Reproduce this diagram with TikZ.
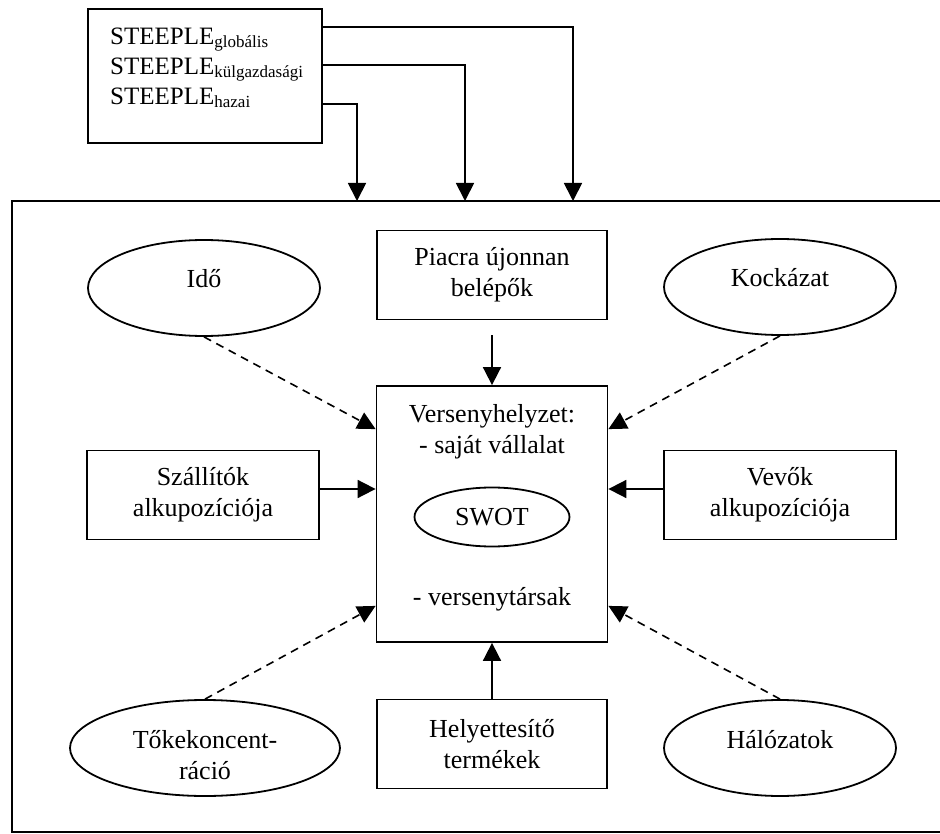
\documentclass[tikz,border=0pt]{standalone}
\usepackage{fontspec}
\setmainfont{Liberation Serif}
\usetikzlibrary{shapes.geometric,arrows.meta}
\tikzset{
  box/.style={draw, line width=1.8pt, minimum width=230pt, minimum height=89pt, inner sep=0pt, align=center},
  oval/.style={draw, ellipse, line width=1.8pt, minimum width=232pt, minimum height=96pt, inner sep=0pt, align=center},
  arr/.style={line width=1.8pt, -{Triangle[length=18pt,width=18pt]}},
  dasharr/.style={arr, line width=1.6pt, dash pattern=on 8pt off 6pt}
}
\newcommand{\steeplesub}[1]{\raisebox{-3pt}{\fontsize{17}{17}\selectfont #1}}
\begin{document}
\begin{tikzpicture}[x=1pt, y=-1pt, font=\fontsize{26}{31}\selectfont]
  \useasboundingbox (0,0) rectangle (940,834);
  % outer frame
  \draw[line width=1.8pt] (940,201) -- (12,201) -- (12,832) -- (940,832);
  \coordinate (in1) at (357,201);
  \coordinate (in2) at (465,201);
  \coordinate (in3) at (573,201);
  % steeple box
  \node[box, minimum width=234pt, minimum height=134pt] (steeple) at (205,76) {};
  \node[anchor=north west, inner sep=0pt, align=left, font=\fontsize{25}{30}\selectfont] (steepletext) at (110,28)
    {STEEPLE\steeplesub{globális}\\STEEPLE\steeplesub{külgazdasági}\\STEEPLE\steeplesub{hazai}};
  \foreach \dy/\c in {19/in3, 57/in2, 96/in1}
    \draw[arr] ([yshift=-\dy pt]steeple.north east) -| (\c);
  % forces
  \node[box] (piacra) at (492,275) {Piacra újonnan\\belépők};
  \node[oval, text depth=19pt] (ido) at (204,288) {Idő};
  \node[oval, text depth=19pt] (kockazat) at (780,287) {Kockázat};
  \node[box, minimum width=232pt] (szallitok) at (203,495) {Szállítók\\alkupozíciója};
  \node[box, minimum width=232pt] (vevok) at (780,495) {Vevők\\alkupozíciója};
  \node[oval, minimum width=270pt, text height=62pt, text depth=0pt] (toke) at (205,748) {Tőkekoncent-\\ráció};
  \node[box] (helyettesito) at (492,744) {Helyettesítő\\termékek};
  \node[oval, text depth=18pt] (halozatok) at (780,748) {Hálózatok};
  % center
  \node[box, minimum width=231pt, minimum height=256pt] (verseny) at (492,514) {};
  \node[anchor=north, inner sep=0pt, align=center] (versenytext) at (492,404) {Versenyhelyzet:\\- saját vállalat};
  \node[draw, ellipse, line width=1.8pt, minimum width=155pt, minimum height=59pt, inner sep=0pt] (swot) at (492,517) {SWOT};
  \node[anchor=base, inner sep=0pt] (versenytarsak) at (492,605) {- versenytársak};
  % arrows
  \draw[arr, shorten <=15pt] (piacra) -- (verseny);
  \draw[arr] (helyettesito) -- (verseny);
  \draw[arr] ([yshift=6pt]szallitok.east) -- ([yshift=6pt]szallitok.east -| verseny.west);
  \draw[arr] ([yshift=6pt]vevok.west) -- ([yshift=6pt]vevok.west -| verseny.east);
  \draw[dasharr] (ido.south) -- ([yshift=-44pt]verseny.north west);
  \draw[dasharr] (kockazat.south) -- ([yshift=-44pt]verseny.north east);
  \draw[dasharr] (toke.north) -- ([yshift=37pt]verseny.south west);
  \draw[dasharr] (halozatok.north) -- ([yshift=37pt]verseny.south east);
\end{tikzpicture}
\end{document}
